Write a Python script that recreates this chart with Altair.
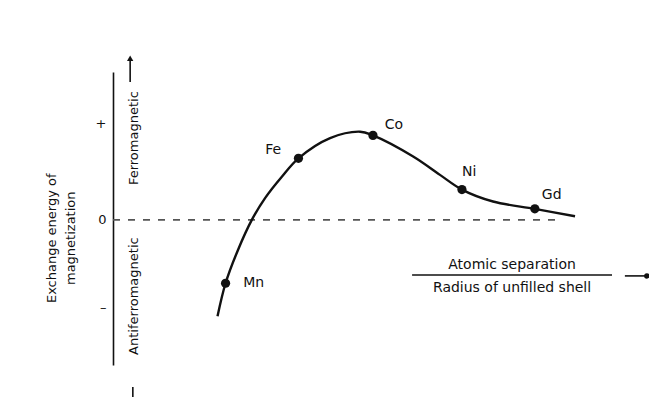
import altair as alt
import pandas as pd

# Bethe-Slater style curve (arbitrary units)
curve_x = [1.95, 2.10, 2.33, 2.59, 2.84, 3.15, 3.46, 4.05, 4.61, 4.85, 5.60, 6.10, 6.51, 7.09, 7.87, 8.62]
curve_y = [-1.05, -0.69, -0.33, 0.00, 0.24, 0.47, 0.67, 0.89, 0.96, 0.92, 0.69, 0.49, 0.33, 0.20, 0.12, 0.04]

elements = ["Mn", "Fe", "Co", "Ni", "Gd"]
elem_x = [2.10, 3.46, 4.85, 6.51, 7.87]
elem_y = [-0.69, 0.67, 0.92, 0.33, 0.12]
elem_label_x = [2.43, 2.84, 5.07, 6.51, 8.00]
elem_label_y = [-0.685, 0.76, 1.03, 0.52, 0.27]

y_ticks = [1.05, 0, -0.95]
y_title = ["Exchange energy of", "magnetization"]
x_title_num = "Atomic separation"
x_title_den = "Radius of unfilled shell"

FONT = "DejaVu Sans"
INK = "#111111"

X_DOM = [0, 10]
Y_DOM = [-1.58, 1.61]
xs = alt.Scale(domain=X_DOM, nice=False, zero=False)
ys = alt.Scale(domain=Y_DOM, nice=False, zero=False)
yaxis = alt.Axis(
    values=y_ticks,
    labelExpr="datum.value > 0.5 ? '+' : (datum.value < -0.5 ? '\u2013' : '0')",
    ticks=False, grid=False, title=None,
    domainColor=INK, domainWidth=1.6,
    labelFont=FONT, labelFontSize=13, labelColor=INK, labelPadding=7,
)


def X(f="x"):
    return alt.X(f + ":Q", scale=xs, axis=None)


def Y(f="y"):
    return alt.Y(f + ":Q", scale=ys, axis=yaxis)


curve_df = pd.DataFrame({"x": curve_x, "y": curve_y, "o": list(range(len(curve_x)))})
elem_df = pd.DataFrame({"x": elem_x, "y": elem_y, "name": elements,
                        "lx": elem_label_x, "ly": elem_label_y})

# dashed zero line
zero_df = pd.DataFrame({"x": [0.0], "x2": [8.30], "y": [0.0]})
zero = alt.Chart(zero_df).mark_rule(color="#555", strokeWidth=1.6, strokeDash=[7, 8]).encode(
    x=X(), x2="x2:Q", y=Y())

curve = alt.Chart(curve_df).mark_line(color=INK, strokeWidth=2.4, interpolate="catmull-rom").encode(
    x=X(), y=Y(), order="o:Q")

dots = alt.Chart(elem_df).mark_circle(color=INK, opacity=1, size=85).encode(x=X(), y=Y())

labels = alt.Chart(elem_df).mark_text(font=FONT, fontSize=14, color=INK, align="left",
                                       baseline="middle").encode(
    x=X("lx"), y=Y("ly"), text="name:N")

# fraction label on the right
frac_df = pd.DataFrame({"x": [9.31 / 2 + 5.58 / 2], "yn": [-0.49], "yd": [-0.74],
                        "num": [x_title_num], "den": [x_title_den]})
num = alt.Chart(frac_df).mark_text(font=FONT, fontSize=14, color=INK, baseline="middle").encode(
    x=X(), y=Y("yn"), text="num:N")
den = alt.Chart(frac_df).mark_text(font=FONT, fontSize=14, color=INK, baseline="middle").encode(
    x=X(), y=Y("yd"), text="den:N")
frac_line_df = pd.DataFrame({"x": [5.58], "x2": [9.31], "y": [-0.60]})
frac_line = alt.Chart(frac_line_df).mark_rule(color=INK, strokeWidth=1.6).encode(
    x=X(), x2="x2:Q", y=Y())
arrow_df = pd.DataFrame({"x": [9.55], "x2": [9.96], "y": [-0.61]})
arrow = alt.Chart(arrow_df).mark_rule(color=INK, strokeWidth=1.6).encode(x=X(), x2="x2:Q", y=Y())
arrow_head = alt.Chart(pd.DataFrame({"x": [9.96], "y": [-0.61]})).mark_point(
    shape="circle", filled=True, color=INK, opacity=1, size=30).encode(x=X(), y=Y())

# vertical annotations next to the axis
ferro = alt.Chart(pd.DataFrame({"x": [0.39], "y": [0.89], "t": ["Ferromagnetic"]})).mark_text(
    font=FONT, fontSize=13, color=INK, angle=270, baseline="middle").encode(x=X(), y=Y(), text="t:N")
anti = alt.Chart(pd.DataFrame({"x": [0.39], "y": [-0.83], "t": ["Antiferromagnetic"]})).mark_text(
    font=FONT, fontSize=13, color=INK, angle=270, baseline="middle").encode(x=X(), y=Y(), text="t:N")
up_df = pd.DataFrame({"x": [0.32], "y": [1.50], "y2": [1.74]})
up = alt.Chart(up_df).mark_rule(color=INK, strokeWidth=1.6).encode(x=X(), y=Y(), y2="y2:Q")
up_head = alt.Chart(pd.DataFrame({"x": [0.32], "y": [1.76]})).mark_point(
    shape="triangle-up", filled=True, color=INK, opacity=1, size=40).encode(x=X(), y=Y())
down_df = pd.DataFrame({"x": [0.37], "y": [-1.82], "y2": [-1.93]})
down = alt.Chart(down_df).mark_rule(color=INK, strokeWidth=1.6).encode(x=X(), y=Y(), y2="y2:Q")

# y title as two rotated lines
ytitle_df = pd.DataFrame({"x": [-1.14, -0.79], "y": [-0.20, -0.20], "t": y_title})
ytitle = alt.Chart(ytitle_df).mark_text(font=FONT, fontSize=13, color=INK, angle=270,
                                        baseline="middle").encode(x=X(), y=Y(), text="t:N")

chart = alt.layer(
    zero, curve, dots, labels, num, den, frac_line, arrow, arrow_head,
    ferro, anti, up, up_head, down, ytitle,
).properties(
    width=536, height=293,
    padding={"left": 105, "top": 64, "right": 0, "bottom": 32},
    autosize=alt.AutoSizeParams(type="none"),
    background="white",
).configure_view(stroke=None)

chart.save("out.html", embed_options={"renderer": "svg", "actions": False})
